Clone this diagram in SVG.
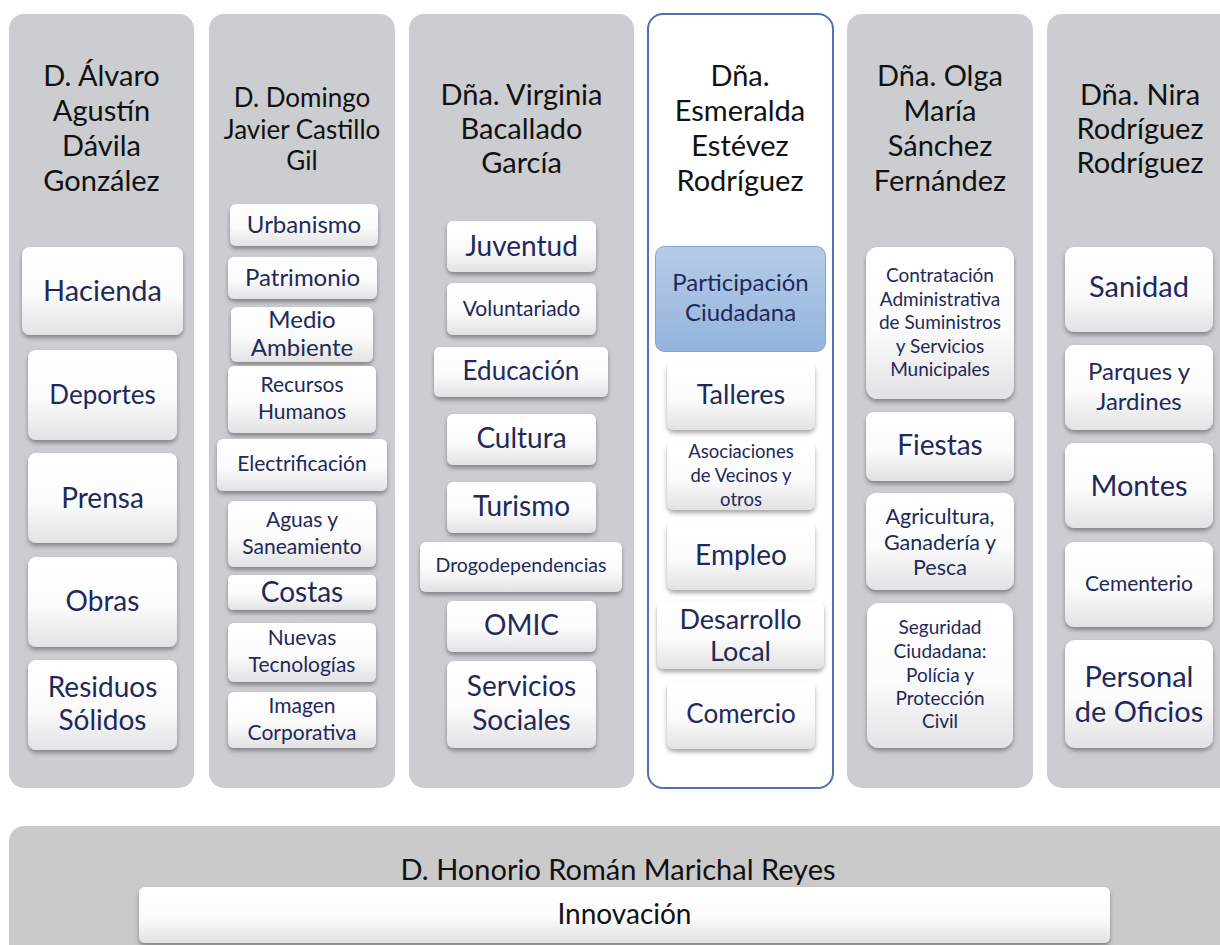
<svg xmlns="http://www.w3.org/2000/svg" width="1220" height="945" viewBox="0 0 1220 945">
  <style>
    .col { fill: #cbcdd1; }
    .colsel { fill: #ffffff; stroke: #4f6fb8; stroke-width: 2; }
    .bar { fill: #cacaca; }
    .box { fill: url(#boxGrad); filter: url(#shadow); }
    .boxsel { fill: url(#selGrad); stroke: #7ea4d4; stroke-width: 1; }
    .head { font-family: Lato, "Liberation Sans", sans-serif; fill: #111111; text-anchor: middle; }
    .lbl { font-family: Lato, "Liberation Sans", sans-serif; fill: #22295a; text-anchor: middle; }
  </style>
  <defs>
    <linearGradient id="boxGrad" x1="0" y1="0" x2="0" y2="1">
      <stop offset="0" stop-color="#ffffff"/>
      <stop offset="0.55" stop-color="#fbfbfb"/>
      <stop offset="1" stop-color="#e2e2e4"/>
    </linearGradient>
    <linearGradient id="selGrad" x1="0" y1="0" x2="0" y2="1">
      <stop offset="0" stop-color="#b5cce8"/>
      <stop offset="1" stop-color="#94b4dd"/>
    </linearGradient>
    <filter id="shadow" x="-10%" y="-10%" width="120%" height="130%">
      <feDropShadow dx="0" dy="3" stdDeviation="2" flood-color="#000000" flood-opacity="0.35"/>
    </filter>
  </defs>

  <!-- column panels -->
  <g id="panels">
    <rect id="col1" class="col" x="9" y="14" width="185" height="774" rx="15"/>
    <rect id="col2" class="col" x="209" y="14" width="186" height="774" rx="15"/>
    <rect id="col3" class="col" x="409" y="14" width="225" height="774" rx="15"/>
    <rect id="col4" class="colsel" x="648" y="14" width="185" height="774" rx="15"/>
    <rect id="col5" class="col" x="847" y="14" width="186" height="774" rx="15"/>
    <rect id="col6" class="col" x="1047" y="14" width="190" height="774" rx="15"/>
    <rect id="bottom" class="bar" x="9" y="826" width="1230" height="140" rx="15"/>
  </g>

  <!-- no connectors in this chart -->
  <g id="connectors"/>

  <!-- column 1 -->
  <g id="head1" class="head" font-size="29">
    <text x="101.5" y="86">D. Álvaro</text>
    <text x="101.5" y="121">Agustín</text>
    <text x="101.5" y="156">Dávila</text>
    <text x="101.5" y="191">González</text>
  </g>
  <g id="hacienda"><rect class="box" x="22" y="247" width="161" height="88" rx="8"/><text class="lbl" font-size="29" x="102.5" y="301">Hacienda</text></g>
  <g id="deportes"><rect class="box" x="28" y="350" width="149" height="90" rx="8"/><text class="lbl" font-size="26" x="102.5" y="404">Deportes</text></g>
  <g id="prensa"><rect class="box" x="28" y="453" width="149" height="90" rx="8"/><text class="lbl" font-size="28" x="102.5" y="508">Prensa</text></g>
  <g id="obras"><rect class="box" x="28" y="557" width="149" height="90" rx="8"/><text class="lbl" font-size="28" x="102.5" y="611">Obras</text></g>
  <g id="residuos"><rect class="box" x="28" y="660" width="149" height="90" rx="8"/><text class="lbl" font-size="28" x="102.5"><tspan x="102.5" y="697">Residuos</tspan><tspan x="102.5" y="730">Sólidos</tspan></text></g>

  <!-- column 2 -->
  <g id="head2" class="head" font-size="26">
    <text x="302" y="107">D. Domingo</text>
    <text x="302" y="139">Javier Castillo</text>
    <text x="302" y="170">Gil</text>
  </g>
  <g id="urbanismo"><rect class="box" x="230" y="204" width="148" height="42" rx="6"/><text class="lbl" font-size="24" x="304" y="233">Urbanismo</text></g>
  <g id="patrimonio"><rect class="box" x="228" y="257" width="149" height="42" rx="6"/><text class="lbl" font-size="24" x="302.5" y="286">Patrimonio</text></g>
  <g id="medioambiente"><rect class="box" x="231" y="307" width="142" height="55" rx="6"/><text class="lbl" font-size="24"><tspan x="302" y="328">Medio</tspan><tspan x="302" y="356">Ambiente</tspan></text></g>
  <g id="rrhh"><rect class="box" x="228" y="366" width="148" height="67" rx="6"/><text class="lbl" font-size="21"><tspan x="302" y="392">Recursos</tspan><tspan x="302" y="419">Humanos</tspan></text></g>
  <g id="electrificacion"><rect class="box" x="217" y="439" width="170" height="52" rx="6"/><text class="lbl" font-size="21" x="302" y="471">Electrificación</text></g>
  <g id="aguas"><rect class="box" x="228" y="501" width="148" height="66" rx="6"/><text class="lbl" font-size="21"><tspan x="302" y="527">Aguas y</tspan><tspan x="302" y="554">Saneamiento</tspan></text></g>
  <g id="costas"><rect class="box" x="228" y="575" width="148" height="35" rx="5"/><text class="lbl" font-size="28" x="302" y="602">Costas</text></g>
  <g id="nntt"><rect class="box" x="228" y="623" width="148" height="59" rx="6"/><text class="lbl" font-size="21"><tspan x="302" y="645">Nuevas</tspan><tspan x="302" y="672">Tecnologías</tspan></text></g>
  <g id="imagen"><rect class="box" x="228" y="692" width="148" height="56" rx="6"/><text class="lbl" font-size="21"><tspan x="302" y="713">Imagen</tspan><tspan x="302" y="740">Corporativa</tspan></text></g>

  <!-- column 3 -->
  <g id="head3" class="head" font-size="29">
    <text x="521.5" y="105">Dña. Virginia</text>
    <text x="521.5" y="139">Bacallado</text>
    <text x="521.5" y="173">García</text>
  </g>
  <g id="juventud"><rect class="box" x="447" y="221" width="149" height="51" rx="6"/><text class="lbl" font-size="28" x="521.5" y="256">Juventud</text></g>
  <g id="voluntariado"><rect class="box" x="447" y="283" width="149" height="52" rx="6"/><text class="lbl" font-size="21" x="521.5" y="316">Voluntariado</text></g>
  <g id="educacion"><rect class="box" x="434" y="347" width="174" height="50" rx="6"/><text class="lbl" font-size="26" x="521" y="380">Educación</text></g>
  <g id="cultura"><rect class="box" x="447" y="414" width="149" height="51" rx="6"/><text class="lbl" font-size="28" x="521.5" y="448">Cultura</text></g>
  <g id="turismo"><rect class="box" x="447" y="482" width="149" height="51" rx="6"/><text class="lbl" font-size="28" x="521.5" y="516">Turismo</text></g>
  <g id="drogodependencias"><rect class="box" x="420" y="542" width="202" height="50" rx="6"/><text class="lbl" font-size="19.5" x="521" y="572">Drogodependencias</text></g>
  <g id="omic"><rect class="box" x="447" y="601" width="149" height="51" rx="6"/><text class="lbl" font-size="28" x="521.5" y="635">OMIC</text></g>
  <g id="sociales"><rect class="box" x="447" y="661" width="149" height="87" rx="7"/><text class="lbl" font-size="28"><tspan x="521.5" y="696">Servicios</tspan><tspan x="521.5" y="730">Sociales</tspan></text></g>

  <!-- column 4 (highlighted) -->
  <g id="head4" class="head" font-size="29">
    <text x="740" y="86">Dña.</text>
    <text x="740" y="121">Esmeralda</text>
    <text x="740" y="156">Estévez</text>
    <text x="740" y="191">Rodríguez</text>
  </g>
  <g id="participacion"><rect class="boxsel" x="655.5" y="246.5" width="170" height="105" rx="9"/><text class="lbl" font-size="24"><tspan x="740.5" y="291">Participación</tspan><tspan x="740.5" y="321">Ciudadana</tspan></text></g>
  <g id="talleres"><rect class="box" x="667" y="362" width="148" height="68" rx="7"/><text class="lbl" font-size="27" x="741" y="404">Talleres</text></g>
  <g id="asociaciones"><rect class="box" x="667" y="442" width="148" height="68" rx="7"/><text class="lbl" font-size="18.5"><tspan x="741" y="458">Asociaciones</tspan><tspan x="741" y="482">de Vecinos y</tspan><tspan x="741" y="506">otros</tspan></text></g>
  <g id="empleo"><rect class="box" x="667" y="522" width="148" height="68" rx="7"/><text class="lbl" font-size="28" x="741" y="565">Empleo</text></g>
  <g id="desarrollo"><rect class="box" x="657" y="601" width="167" height="68" rx="7"/><text class="lbl" font-size="27"><tspan x="740.5" y="629">Desarrollo</tspan><tspan x="740.5" y="661">Local</tspan></text></g>
  <g id="comercio"><rect class="box" x="667" y="681" width="148" height="68" rx="7"/><text class="lbl" font-size="26" x="741" y="723">Comercio</text></g>

  <!-- column 5 -->
  <g id="head5" class="head" font-size="29">
    <text x="940" y="86">Dña. Olga</text>
    <text x="940" y="121">María</text>
    <text x="940" y="156">Sánchez</text>
    <text x="940" y="191">Fernández</text>
  </g>
  <g id="contratacion"><rect class="box" x="866" y="247" width="148" height="152" rx="12"/><text class="lbl" font-size="19"><tspan x="940" y="282">Contratación</tspan><tspan x="940" y="306">Administrativa</tspan><tspan x="940" y="329">de Suministros</tspan><tspan x="940" y="353">y Servicios</tspan><tspan x="940" y="376">Municipales</tspan></text></g>
  <g id="fiestas"><rect class="box" x="866" y="412" width="148" height="69" rx="8"/><text class="lbl" font-size="28" x="940" y="455">Fiestas</text></g>
  <g id="agricultura"><rect class="box" x="866" y="493" width="148" height="97" rx="10"/><text class="lbl" font-size="21.5"><tspan x="940" y="524">Agricultura,</tspan><tspan x="940" y="550">Ganadería y</tspan><tspan x="940" y="575">Pesca</tspan></text></g>
  <g id="seguridad"><rect class="box" x="867" y="603" width="146" height="145" rx="12"/><text class="lbl" font-size="19"><tspan x="940" y="634">Seguridad</tspan><tspan x="940" y="658">Ciudadana:</tspan><tspan x="940" y="682">Polícia y</tspan><tspan x="940" y="705">Protección</tspan><tspan x="940" y="728">Civil</tspan></text></g>

  <!-- column 6 -->
  <g id="head6" class="head" font-size="29">
    <text x="1140" y="105">Dña. Nira</text>
    <text x="1140" y="139">Rodríguez</text>
    <text x="1140" y="173">Rodríguez</text>
  </g>
  <g id="sanidad"><rect class="box" x="1065" y="247" width="148" height="85" rx="9"/><text class="lbl" font-size="29" x="1139" y="297">Sanidad</text></g>
  <g id="parques"><rect class="box" x="1065" y="345" width="148" height="85" rx="9"/><text class="lbl" font-size="24"><tspan x="1139" y="380">Parques y</tspan><tspan x="1139" y="410">Jardines</tspan></text></g>
  <g id="montes"><rect class="box" x="1065" y="443" width="148" height="85" rx="9"/><text class="lbl" font-size="29" x="1139" y="496">Montes</text></g>
  <g id="cementerio"><rect class="box" x="1065" y="542" width="148" height="85" rx="9"/><text class="lbl" font-size="21" x="1139" y="591">Cementerio</text></g>
  <g id="personal"><rect class="box" x="1065" y="640" width="148" height="108" rx="10"/><text class="lbl" font-size="29"><tspan x="1139" y="687">Personal</tspan><tspan x="1139" y="722">de Oficios</tspan></text></g>

  <!-- bottom band -->
  <g id="head7" class="head" font-size="29">
    <text x="618" y="880">D. Honorio Román Marichal Reyes</text>
  </g>
  <g id="innovacion"><rect class="box" x="139" y="887" width="971" height="56" rx="6"/><text class="head" font-size="28" x="624.5" y="924">Innovación</text></g>
</svg>
